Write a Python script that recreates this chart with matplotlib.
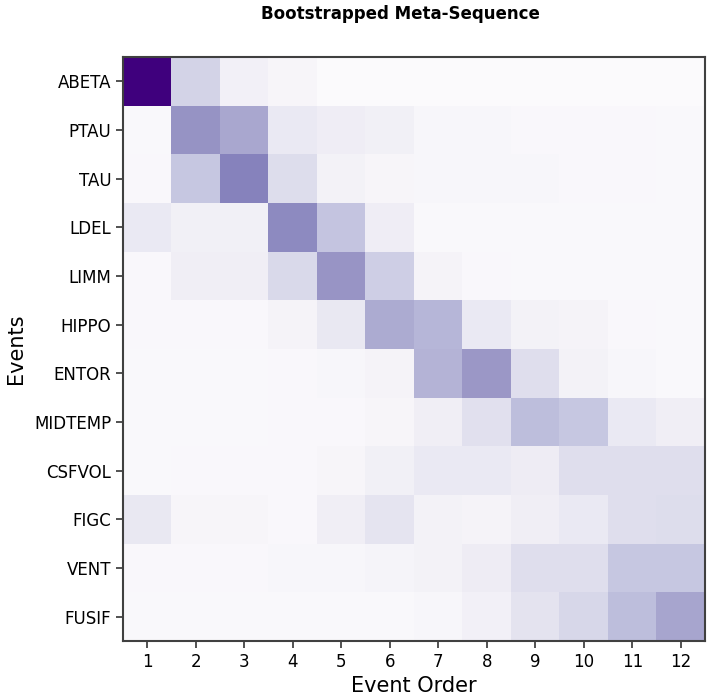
import numpy as np
import matplotlib
matplotlib.use("Agg")
import matplotlib.pyplot as plt

events = ["ABETA", "PTAU", "TAU", "LDEL", "LIMM", "HIPPO",
          "ENTOR", "MIDTEMP", "CSFVOL", "FIGC", "VENT", "FUSIF"]
order = [1, 2, 3, 4, 5, 6, 7, 8, 9, 10, 11, 12]

# share of bootstrap samples placing each event at each position
abeta   = [1.00, 0.28, 0.09, 0.05, 0.01, 0.01, 0.01, 0.01, 0.01, 0.01, 0.01, 0.01]
ptau    = [0.02, 0.53, 0.45, 0.15, 0.12, 0.10, 0.04, 0.04, 0.03, 0.03, 0.03, 0.02]
tau     = [0.03, 0.33, 0.60, 0.23, 0.08, 0.05, 0.04, 0.04, 0.04, 0.03, 0.03, 0.02]
ldel    = [0.15, 0.10, 0.10, 0.57, 0.34, 0.12, 0.02, 0.02, 0.02, 0.02, 0.02, 0.02]
limm    = [0.03, 0.11, 0.11, 0.25, 0.52, 0.30, 0.07, 0.03, 0.02, 0.02, 0.02, 0.02]
hippo   = [0.03, 0.03, 0.03, 0.07, 0.16, 0.44, 0.40, 0.15, 0.08, 0.07, 0.03, 0.02]
entor   = [0.02, 0.02, 0.02, 0.03, 0.04, 0.07, 0.41, 0.51, 0.22, 0.08, 0.04, 0.02]
midtemp = [0.02, 0.02, 0.02, 0.03, 0.03, 0.05, 0.11, 0.21, 0.37, 0.33, 0.15, 0.11]
csfvol  = [0.02, 0.03, 0.03, 0.03, 0.05, 0.10, 0.15, 0.15, 0.13, 0.22, 0.22, 0.22]
figc    = [0.16, 0.05, 0.05, 0.03, 0.11, 0.18, 0.08, 0.07, 0.11, 0.15, 0.22, 0.23]
vent    = [0.03, 0.03, 0.03, 0.04, 0.04, 0.06, 0.08, 0.13, 0.22, 0.22, 0.33, 0.33]
fusif   = [0.02, 0.02, 0.02, 0.02, 0.02, 0.02, 0.04, 0.09, 0.19, 0.26, 0.37, 0.46]

mat = np.array([abeta, ptau, tau, ldel, limm, hippo,
                entor, midtemp, csfvol, figc, vent, fusif])

fig = plt.figure(figsize=(7.08, 6.96), dpi=100)
ax = fig.add_axes([123 / 708, 55 / 696, 582 / 708, 584 / 696])

ax.imshow(mat, cmap="Purples", vmin=0, vmax=1, aspect="auto",
          interpolation="nearest")

ax.set_xticks(range(len(order)))
ax.set_xticklabels(order, fontsize=12)
ax.set_yticks(range(len(events)))
ax.set_yticklabels(events, fontsize=12)
ax.tick_params(length=5, width=1.2, color="0.2")
for s in ax.spines.values():
    s.set_color("0.25")
    s.set_linewidth(1.5)

ax.set_xlabel("Event Order", fontsize=15, labelpad=4)
ax.set_ylabel("Events", fontsize=15, labelpad=6)
fig.text(400 / 708, 1 - 14 / 696, "Bootstrapped Meta-Sequence",
         ha="center", va="center", fontsize=12, fontweight="bold")

fig.savefig("out.png", dpi=100)
